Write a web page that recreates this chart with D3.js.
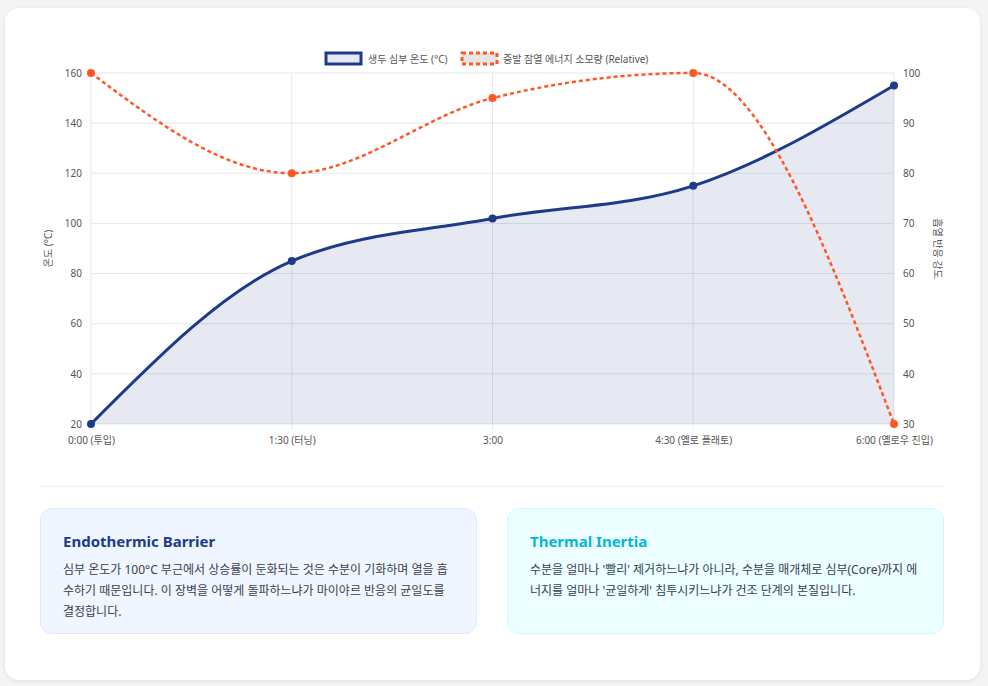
<!DOCTYPE html>
<html><head><meta charset="utf-8">
<script src="https://cdn.jsdelivr.net/npm/d3@7"></script>
<style>
body{margin:0;background:#f3f4f6;font-family:"Noto Sans","Noto Sans CJK KR",sans-serif;}
.card{position:absolute;left:5px;top:8px;width:975px;height:672px;background:#fff;border-radius:14px;box-shadow:0 1px 4px rgba(0,0,0,.08);}
.box{position:absolute;top:508px;height:126px;border-radius:12px;box-sizing:border-box;padding:22px 22px;}
.box h3{margin:0 0 8px;font-size:15px;font-weight:700;}
.box p{margin:0;font-size:12px;line-height:21px;color:#374151;}
</style></head><body>
<div class="card"></div>
<svg id="chart" width="988" height="490" style="position:absolute;left:0;top:0"></svg>
<div class="box" style="left:40px;width:437px;background:#eff6ff;border:1px solid #dbeafe"><h3 style="color:#1e3a8a">Endothermic Barrier</h3><p>심부 온도가 100°C 부근에서 상승률이 둔화되는 것은 수분이 기화하며 열을 흡수하기 때문입니다. 이 장벽을 어떻게 돌파하느냐가 마이야르 반응의 균일도를 결정합니다.</p></div>
<div class="box" style="left:507px;width:437px;background:#ecfeff;border:1px solid #cffafe"><h3 style="color:#06b6d4">Thermal Inertia</h3><p>수분을 얼마나 '빨리' 제거하느냐가 아니라, 수분을 매개체로 심부(Core)까지 에너지를 얼마나 '균일하게' 침투시키느냐가 건조 단계의 본질입니다.</p></div>
<script>
const labels = ["0:00 (투입)", "1:30 (터닝)", "3:00", "4:30 (옐로 플래토)", "6:00 (옐로우 진입)"];
const coreTemp = [20, 85, 102, 115, 155];
const energy = [100, 80, 95, 100, 30];
const leftTicks = [20, 40, 60, 80, 100, 120, 140, 160];
const rightTicks = [30, 40, 50, 60, 70, 80, 90, 100];

const svg = d3.select("#chart");
const m = {left: 91, right: 894, top: 73, bottom: 424};
const x = d3.scalePoint().domain(labels).range([m.left, m.right]);
const yL = d3.scaleLinear().domain([20, 160]).range([m.bottom, m.top]);
const yR = d3.scaleLinear().domain([30, 100]).range([m.bottom, m.top]);
const font = "Noto Sans, Noto Sans CJK KR, sans-serif";

// grid
svg.append("g").selectAll("line").data(leftTicks).join("line")
  .attr("x1", m.left).attr("x2", m.right).attr("y1", d => yL(d)).attr("y2", d => yL(d))
  .attr("stroke", "#e5e7eb");
svg.append("g").selectAll("line").data(labels).join("line")
  .attr("x1", d => x(d)).attr("x2", d => x(d)).attr("y1", m.top).attr("y2", m.bottom + 6)
  .attr("stroke", "#e5e7eb");

// axes
const ax = (g) => { g.select(".domain").remove(); g.selectAll(".tick line").remove();
  g.selectAll("text").attr("fill", "#555").style("font-family", font).style("font-size", "10px"); };
svg.append("g").attr("transform", `translate(${m.left - 6},0)`)
  .call(d3.axisLeft(yL).tickValues(leftTicks).tickSize(0)).call(ax);
svg.append("g").attr("transform", `translate(${m.right + 6},0)`)
  .call(d3.axisRight(yR).tickValues(rightTicks).tickSize(0)).call(ax);
svg.append("g").attr("transform", `translate(0,${m.bottom + 10})`)
  .call(d3.axisBottom(x).tickSize(0)).call(ax);

svg.append("text").attr("transform", `translate(52,${(m.top + m.bottom) / 2}) rotate(-90)`)
  .attr("text-anchor", "middle").attr("font-size", 10).attr("fill", "#555").attr("font-family", font).text("온도 (°C)");
svg.append("text").attr("transform", `translate(934,${(m.top + m.bottom) / 2}) rotate(90)`)
  .attr("text-anchor", "middle").attr("font-size", 10).attr("fill", "#555").attr("font-family", font).text("흡열 반응 강도");

// area + lines
const curve = d3.curveMonotoneX;
svg.append("path").datum(coreTemp)
  .attr("d", d3.area().x((d, i) => x(labels[i])).y0(m.bottom).y1(d => yL(d)).curve(curve))
  .attr("fill", "rgba(30,58,138,0.11)");
svg.append("path").datum(coreTemp)
  .attr("d", d3.line().x((d, i) => x(labels[i])).y(d => yL(d)).curve(curve))
  .attr("fill", "none").attr("stroke", "#1e3a8a").attr("stroke-width", 3);
svg.append("path").datum(energy)
  .attr("d", d3.line().x((d, i) => x(labels[i])).y(d => yR(d)).curve(curve))
  .attr("fill", "none").attr("stroke", "#ff5722").attr("stroke-width", 2.5).attr("stroke-dasharray", "4,3");
svg.append("g").selectAll("circle").data(coreTemp).join("circle")
  .attr("cx", (d, i) => x(labels[i])).attr("cy", d => yL(d)).attr("r", 4).attr("fill", "#1e3a8a");
svg.append("g").selectAll("circle").data(energy).join("circle")
  .attr("cx", (d, i) => x(labels[i])).attr("cy", d => yR(d)).attr("r", 4).attr("fill", "#ff5722");

// legend
const lg = svg.append("g").attr("font-family", font).attr("font-size", 10).attr("fill", "#555");
lg.append("rect").attr("x", 326).attr("y", 53).attr("width", 35).attr("height", 11)
  .attr("fill", "#e8eaf3").attr("stroke", "#1e3a8a").attr("stroke-width", 3);
lg.append("text").attr("x", 368).attr("y", 63).text("생두 심부 온도 (°C)");
lg.append("rect").attr("x", 462).attr("y", 53).attr("width", 35).attr("height", 11)
  .attr("fill", "#e5e5e5").attr("stroke", "#ff5722").attr("stroke-width", 3).attr("stroke-dasharray", "4,3");
lg.append("text").attr("x", 503).attr("y", 63).text("증발 잠열 에너지 소모량 (Relative)");

// separator
svg.append("line").attr("x1", 40).attr("x2", 944).attr("y1", 486.5).attr("y2", 486.5).attr("stroke", "#eef0f2");
</script>
</body></html>
